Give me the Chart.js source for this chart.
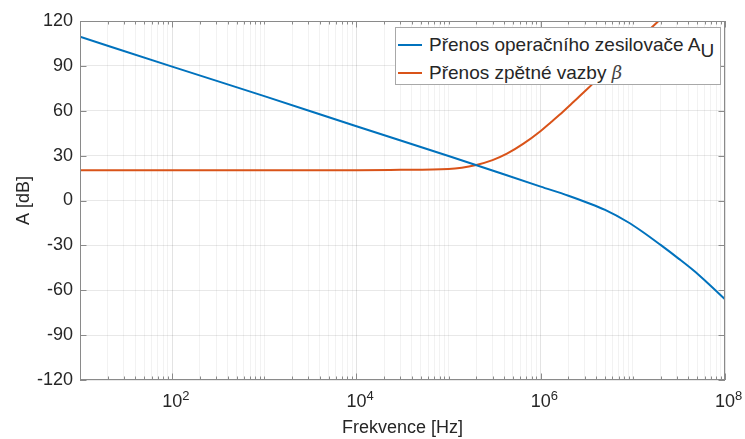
<!DOCTYPE html>
<html>
<head>
<meta charset="utf-8">
<script src="https://cdn.jsdelivr.net/npm/chart.js@4.4.1/dist/chart.umd.min.js"></script>
<style>
  body { margin: 0; background: #fff; }
  #wrap { position: relative; width: 745px; height: 439px; font-family: "Liberation Sans", Arial, sans-serif; color: #262626; }
  #legend {
    position: absolute; left: 395px; top: 27px; width: 326px; height: 58px;
    box-sizing: border-box; border: 1px solid #a8a8a8; background: #fff; font-size: 19px;
  }
  #legend .row { position: absolute; left: 0; height: 24px; line-height: 24px; white-space: nowrap; }
  #legend .swatch { position: absolute; left: 2px; top: 11px; width: 24px; height: 2px; }
  #legend .txt { position: absolute; left: 33px; top: 0; }
  #legend sub { font-size: 19px; vertical-align: -6px; line-height: 0; }
  .xlab { position: absolute; top: 392px; font-size: 18px; line-height: 18px; transform: translateX(-50%); white-space: nowrap; }
  .xlab sup { position: absolute; left: 100%; top: -3px; font-size: 13px; line-height: 13px; }
</style>
</head>
<body>
<div id="wrap">
  <canvas id="chart" width="745" height="439"></canvas>
  <div id="legend"></div>
</div>
<script>
// frequencies in Hz, gains in dB
const opampFreq = [10, 100, 1e3, 1e4, 1e5, 1e6, 2e6, 3.16e6, 5e6, 8.7e6, 1.26e7, 2e7, 3.16e7, 4.6e7, 6.3e7, 1e8];
const opampGain = [109.5, 89.5, 69.8, 49.6, 29.8, 9.3, 3.2, -1.3, -6.3, -14.2, -20.7, -29.7, -39, -47, -54.5, -66];

const betaFreq = [10, 1e3, 1e4, 3e4, 1e5, 2e5, 3e5, 4.3e5, 6.5e5, 1e6, 1.3e6, 1.6e6, 2.2e6, 3.2e6, 1e7, 1.9e7, 3e7];
const betaGain = [20.3, 20.3, 20.3, 20.5, 21.1, 23.8, 27, 31.3, 38, 46.5, 52.5, 57.3, 65.2, 74.5, 104, 120, 132];

const seriesLabels = ['Přenos operačního zesilovače A<sub>U</sub>', 'Přenos zpětné vazby <i style="font-family:\'DejaVu Serif\',serif;font-size:18px;color:#444">β</i>'];
const seriesColors = ['#0072BD', '#D95319'];

const xTickValues = [1e2, 1e4, 1e6, 1e8];
const xTickBase = '10';
const xTickExp = ['2', '4', '6', '8'];
const yTicks = [-120, -90, -60, -30, 0, 30, 60, 90, 120];

const textColor = '#262626';
const axisColor = '#8a8a8a';
const font = { family: '"Liberation Sans", Arial, sans-serif', size: 18 };

function toPoints(xs, ys) {
    return xs.map((x, i) => ({ x: x, y: ys[i] }));
}

function isMajor(v) {
    return xTickValues.indexOf(v) >= 0;
}

// MATLAB style box with inward ticks
const boxPlugin = {
    id: 'box',
    afterDraw(chart) {
        const c = chart.ctx;
        const a = chart.chartArea;
        const xs = chart.scales.x;
        const ys = chart.scales.y;
        c.save();
        c.strokeStyle = axisColor;
        c.lineWidth = 1;
        c.strokeRect(a.left + 0.5, a.top + 0.5, a.right - a.left - 1, a.bottom - a.top - 1);
        c.beginPath();
        xs.ticks.forEach(t => {
            const px = Math.round(xs.getPixelForValue(t.value)) + 0.5;
            const len = isMajor(t.value) ? 6.5 : 3.5;
            c.moveTo(px, a.bottom); c.lineTo(px, a.bottom - len);
            c.moveTo(px, a.top); c.lineTo(px, a.top + len);
        });
        ys.ticks.forEach(t => {
            const py = Math.round(ys.getPixelForValue(t.value)) + 0.5;
            c.moveTo(a.left, py); c.lineTo(a.left + 6.5, py);
            c.moveTo(a.right, py); c.lineTo(a.right - 6.5, py);
        });
        c.stroke();
        c.restore();
    }
};

const ctx = document.getElementById('chart').getContext('2d');
const chart = new Chart(ctx, {
    type: 'line',
    data: {
        datasets: [
            {
                label: 'Přenos operačního zesilovače A_U',
                data: toPoints(opampFreq, opampGain),
                borderColor: seriesColors[0],
                borderWidth: 2,
                pointRadius: 0,
                cubicInterpolationMode: 'monotone'
            },
            {
                label: 'Přenos zpětné vazby β',
                data: toPoints(betaFreq, betaGain),
                borderColor: seriesColors[1],
                borderWidth: 2,
                pointRadius: 0,
                cubicInterpolationMode: 'monotone'
            }
        ]
    },
    options: {
        responsive: false,
        animation: false,
        devicePixelRatio: 1,
        layout: { padding: { top: 21, right: 20, left: 0, bottom: 0 } },
        plugins: {
            legend: { display: false },
            tooltip: { enabled: false }
        },
        scales: {
            x: {
                type: 'logarithmic',
                min: 10,
                max: 1e8,
                afterBuildTicks(scale) {
                    const ticks = [];
                    for (let e = 1; e < 8; e++) {
                        for (let m = 1; m < 10; m++) {
                            ticks.push({ value: m * Math.pow(10, e) });
                        }
                    }
                    ticks.push({ value: 1e8 });
                    scale.ticks = ticks;
                },
                afterFit(scale) { scale.height = 59; },
                ticks: {
                    autoSkip: false,
                    maxRotation: 0,
                    // labels with superscripts are placed as html below
                    callback: () => ''
                },
                grid: {
                    drawTicks: false,
                    color: c => isMajor(c.tick && c.tick.value) ? 'rgba(0,0,0,0.11)' : 'rgba(0,0,0,0.05)'
                },
                border: { display: false },
                title: {
                    display: true,
                    text: 'Frekvence [Hz]',
                    color: textColor,
                    font: font,
                    padding: { top: 0, bottom: 0 }
                }
            },
            y: {
                min: -120,
                max: 120,
                afterBuildTicks(scale) {
                    scale.ticks = yTicks.map(v => ({ value: v }));
                },
                afterFit(scale) { scale.width = 80; },
                ticks: {
                    padding: 7,
                    color: textColor,
                    font: font
                },
                grid: {
                    drawTicks: false,
                    color: 'rgba(0,0,0,0.09)'
                },
                border: { display: false },
                title: {
                    display: true,
                    text: 'A [dB]',
                    color: textColor,
                    font: font,
                    padding: { top: 13, bottom: 0 }
                }
            }
        }
    },
    plugins: [boxPlugin]
});

// x tick labels 10^n
const wrap = document.getElementById('wrap');
xTickValues.forEach((v, i) => {
    const lab = document.createElement('div');
    lab.className = 'xlab';
    lab.style.left = chart.scales.x.getPixelForValue(v) + 'px';
    lab.innerHTML = xTickBase + '<sup>' + xTickExp[i] + '</sup>';
    wrap.appendChild(lab);
});

// legend with subscript / greek letter
const legend = document.getElementById('legend');
chart.data.datasets.forEach((ds, i) => {
    const row = document.createElement('div');
    row.className = 'row';
    row.style.top = (5 + i * 28) + 'px';
    row.innerHTML = '<span class="swatch" style="background:' + seriesColors[i] + '"></span>' +
        '<span class="txt">' + seriesLabels[i] + '</span>';
    legend.appendChild(row);
});
</script>
</body>
</html>
